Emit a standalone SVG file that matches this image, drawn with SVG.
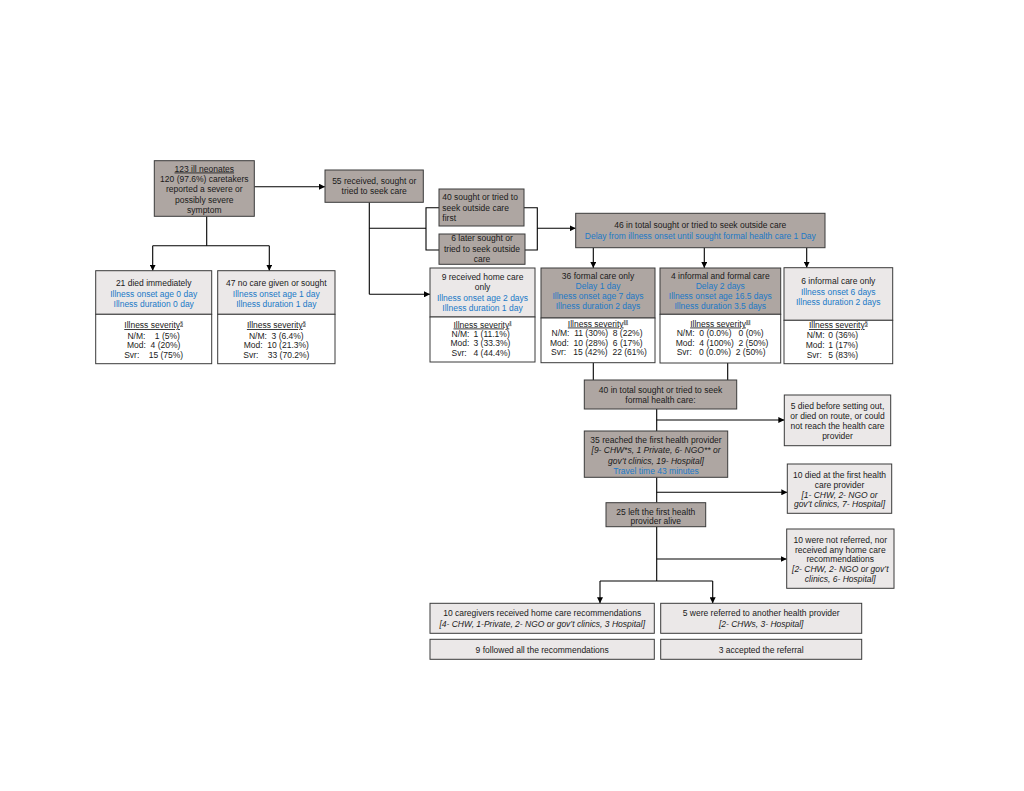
<svg xmlns="http://www.w3.org/2000/svg" width="1024" height="791" viewBox="0 0 1024 791">
<defs>
<marker id="ah" viewBox="0 0 6 6" refX="6" refY="3" markerWidth="6" markerHeight="6" markerUnits="userSpaceOnUse" orient="auto"><path d="M0,0 L6,3 L0,6 z" fill="#000"/></marker>
<style>
.d{fill:#aea6a2;stroke:#3a3a3a;stroke-width:1}
.l{fill:#ebe8e8;stroke:#3a3a3a;stroke-width:1}
.w{fill:#ffffff;stroke:#3a3a3a;stroke-width:1}
text{font-family:"Liberation Sans",Arial,sans-serif;font-size:8.5px;fill:#1a1a1a}
.c{text-anchor:middle}
.b{fill:#2079c7}
.i{font-style:italic}
.u{text-decoration:underline}
.s{font-size:5.5px}
.p{white-space:pre}
.cn line,.cn path{stroke:#000;stroke-width:1.1;fill:none}
</style>
</defs>
<rect width="1024" height="791" fill="#fff"/>

<g id="connectors" class="cn">
<line x1="254.3" y1="186.7" x2="325" y2="186.7" marker-end="url(#ah)"/>
<path d="M206.7,216.3 V245.7"/>
<path d="M152.7,245.7 H269.3"/>
<line x1="152.7" y1="245.7" x2="152.7" y2="270.7" marker-end="url(#ah)"/>
<line x1="269.3" y1="245.7" x2="269.3" y2="270.7" marker-end="url(#ah)"/>
<path d="M369.3,202.3 V294.3"/>
<line x1="369.3" y1="294.3" x2="430" y2="294.3" marker-end="url(#ah)"/>
<path d="M369.3,228.3 H426"/>
<path d="M439,207.7 H426 V250 H439"/>
<path d="M524,207.7 H537.3 V250 H525"/>
<line x1="537.3" y1="228.3" x2="575.7" y2="228.3" marker-end="url(#ah)"/>
<line x1="593.3" y1="247.7" x2="593.3" y2="268" marker-end="url(#ah)"/>
<line x1="704.3" y1="247.7" x2="704.3" y2="268" marker-end="url(#ah)"/>
<line x1="806.7" y1="247.7" x2="806.7" y2="267.7" marker-end="url(#ah)"/>
<path d="M593.3,362.7 V380"/>
<path d="M727.7,363 V380"/>
<path d="M656.7,409 V431"/>
<line x1="656.7" y1="420" x2="784.3" y2="420" marker-end="url(#ah)"/>
<path d="M656.7,477.3 V502.7"/>
<line x1="656.7" y1="492.3" x2="787.3" y2="492.3" marker-end="url(#ah)"/>
<path d="M656.7,526.7 V581"/>
<line x1="656.7" y1="559" x2="786.7" y2="559" marker-end="url(#ah)"/>
<path d="M600,581 H712.7"/>
<line x1="600" y1="581" x2="600" y2="603.3" marker-end="url(#ah)"/>
<line x1="712.7" y1="581" x2="712.7" y2="603.3" marker-end="url(#ah)"/>
</g>

<g id="n123">
<rect class="d" x="154.3" y="160.7" width="100" height="55.6"/>
<text class="c u" x="204.3" y="171.5">123 ill neonates</text>
<text class="c" x="204.3" y="182">120 (97.6%) caretakers</text>
<text class="c" x="204.3" y="192.3">reported a severe or</text>
<text class="c" x="204.3" y="202.6">possibly severe</text>
<text class="c" x="204.3" y="212.9">symptom</text>
</g>

<g id="n55">
<rect class="d" x="325" y="170" width="98.3" height="32.3"/>
<text class="c" x="374.2" y="184">55 received, sought or</text>
<text class="c" x="374.2" y="194">tried to seek care</text>
</g>

<g id="n40first">
<rect class="d" x="439" y="189" width="85" height="37"/>
<text x="442.3" y="200.3">40 sought or tried to</text>
<text x="442.3" y="210.7">seek outside care</text>
<text x="442.3" y="220.6">first</text>
</g>

<g id="n6later">
<rect class="d" x="439" y="234" width="86" height="30.3"/>
<text class="c" x="482" y="241">6 later sought or</text>
<text class="c" x="482" y="251.5">tried to seek outside</text>
<text class="c" x="482" y="262">care</text>
</g>

<g id="n46">
<rect class="d" x="575.7" y="213.3" width="249.3" height="34.4"/>
<text class="c" x="700.3" y="228">46 in total sought or tried to seek outside care</text>
<text class="c b" x="700.3" y="239">Delay from illness onset until sought formal health care 1 Day</text>
</g>

<g id="n21">
<rect class="l" x="95.7" y="270.7" width="116" height="43.6"/>
<rect class="w" x="95.7" y="314.3" width="116" height="49.4"/>
<text class="c" x="153.7" y="286">21 died immediately</text>
<text class="c b" x="153.7" y="296.5">Illness onset age 0 day</text>
<text class="c b" x="153.7" y="307">Illness duration 0 day</text>
<text class="c u" x="153.7" y="328">Illness severity<tspan class="s" dy="-3">§</tspan></text>
<text class="c p" xml:space="preserve" x="153.7" y="338.5">N/M:    1 (5%)</text>
<text class="c p" xml:space="preserve" x="153.7" y="348">Mod:  4 (20%)</text>
<text class="c p" xml:space="preserve" x="153.7" y="358">Svr:    15 (75%)</text>
</g>

<g id="n47">
<rect class="l" x="217.7" y="270.7" width="117.3" height="43.6"/>
<rect class="w" x="217.7" y="314.3" width="117.3" height="49.4"/>
<text class="c" x="276.3" y="286">47 no care given or sought</text>
<text class="c b" x="276.3" y="296.5">Illness onset age 1 day</text>
<text class="c b" x="276.3" y="307">Illness duration 1 day</text>
<text class="c u" x="276.3" y="328">Illness severity<tspan class="s" dy="-3">§</tspan></text>
<text class="c p" xml:space="preserve" x="276.3" y="338.5">N/M:  3 (6.4%)</text>
<text class="c p" xml:space="preserve" x="276.3" y="348">Mod:  10 (21.3%)</text>
<text class="c p" xml:space="preserve" x="276.3" y="358">Svr:    33 (70.2%)</text>
</g>

<g id="n9">
<rect class="l" x="430" y="268" width="105" height="49"/>
<rect class="w" x="430" y="317" width="105" height="45"/>
<text class="c" x="482.5" y="280">9 received home care</text>
<text class="c" x="482.5" y="290">only</text>
<text class="c b" x="482.5" y="300.5">Illness onset age 2 days</text>
<text class="c b" x="482.5" y="311">Illness duration 1 day</text>
<text class="c u" x="482.5" y="327.5">Illness severity<tspan class="s" dy="-3">‖</tspan></text>
<text x="451.5" y="337">N/M:</text><text x="473.5" y="337">1 (11.1%)</text>
<text x="450.5" y="346.3">Mod:</text><text x="473.5" y="346.3">3 (33.3%)</text>
<text x="451.5" y="355.8">Svr:</text><text x="473.5" y="355.8">4 (44.4%)</text>
</g>

<g id="n36">
<rect class="d" x="541" y="268" width="114" height="50"/>
<rect class="w" x="541" y="318" width="114" height="44.7"/>
<text class="c" x="598" y="279">36 formal care only</text>
<text class="c b" x="598" y="289">Delay 1 day</text>
<text class="c b" x="598" y="299">Illness onset age 7 days</text>
<text class="c b" x="598" y="309.3">Illness duration 2 days</text>
<text class="c u" x="598" y="326.5">Illness severity<tspan class="s" dy="-3">‖‖</tspan></text>
<text class="p" xml:space="preserve" x="551.5" y="336">N/M:  11 (30%)  8 (22%)</text>
<text class="p" xml:space="preserve" x="550" y="345.5">Mod:  10 (28%)  6 (17%)</text>
<text class="p" xml:space="preserve" x="551" y="355">Svr:   15 (42%)  22 (61%)</text>
</g>

<g id="n4">
<rect class="d" x="660" y="268" width="120.7" height="46.3"/>
<rect class="w" x="660" y="314.3" width="120.7" height="48.7"/>
<text class="c" x="720.3" y="279">4 informal and formal care</text>
<text class="c b" x="720.3" y="289">Delay 2 days</text>
<text class="c b" x="720.3" y="299">Illness onset age 16.5 days</text>
<text class="c b" x="720.3" y="309.3">Illness duration 3.5 days</text>
<text class="c u" x="720.3" y="326.5">Illness severity<tspan class="s" dy="-3">‖‖</tspan></text>
<text class="p" xml:space="preserve" x="676.7" y="336">N/M:  0 (0.0%)   0 (0%)</text>
<text class="p" xml:space="preserve" x="675.7" y="345.8">Mod:  4 (100%)  2 (50%)</text>
<text class="p" xml:space="preserve" x="676.7" y="355.3">Svr:   0 (0.0%)  2 (50%)</text>
</g>

<g id="n6informal">
<rect class="l" x="784" y="267.7" width="108.7" height="52.6"/>
<rect class="w" x="784" y="320.3" width="108.7" height="43.4"/>
<text class="c" x="838.3" y="284">6 informal care only</text>
<text class="c b" x="838.3" y="295">Illness onset 6 days</text>
<text class="c b" x="838.3" y="305">Illness duration 2 days</text>
<text class="c u" x="838.3" y="328">Illness severity<tspan class="s" dy="-3">§</tspan></text>
<text x="806.7" y="337.5">N/M:</text><text x="828.3" y="337.5">0 (36%)</text>
<text x="805.7" y="347.5">Mod:</text><text x="828.3" y="347.5">1 (17%)</text>
<text x="806.7" y="357.5">Svr:</text><text x="828.3" y="357.5">5 (83%)</text>
</g>

<g id="n40total">
<rect class="d" x="584.3" y="380" width="152.4" height="29"/>
<text class="c" x="660.5" y="393">40 in total sought or tried to seek</text>
<text class="c" x="660.5" y="403">formal health care:</text>
</g>

<g id="n5died">
<rect class="l" x="784.3" y="395" width="106.4" height="50.7"/>
<text class="c" x="837.5" y="408.5">5 died before setting out,</text>
<text class="c" x="837.5" y="418.5">or died on route, or could</text>
<text class="c" x="837.5" y="428.5">not reach the health care</text>
<text class="c" x="837.5" y="438.5">provider</text>
</g>

<g id="n35">
<rect class="d" x="584.3" y="431" width="143.4" height="46.3"/>
<text class="c" x="656" y="443">35 reached the first health provider</text>
<text class="c i" x="656" y="453.3">[9- CHW*s, 1 Private, 6- NGO** or</text>
<text class="c i" x="656" y="463.8">gov’t clinics, 19- Hospital]</text>
<text class="c b" x="656" y="474.3">Travel time 43 minutes</text>
</g>

<g id="n10died">
<rect class="l" x="787.3" y="464" width="104.4" height="49.3"/>
<text class="c" x="839.5" y="478">10 died at the first health</text>
<text class="c" x="839.5" y="487.5">care provider</text>
<text class="c i" x="839.5" y="497.5">[1- CHW, 2- NGO or</text>
<text class="c i" x="839.5" y="507.3">gov’t clinics, 7- Hospital]</text>
</g>

<g id="n25">
<rect class="d" x="606" y="502.7" width="99.7" height="24"/>
<text class="c" x="655.8" y="514.5">25 left the first health</text>
<text class="c" x="655.8" y="524">provider alive</text>
</g>

<g id="n10notref">
<rect class="l" x="786.7" y="529" width="107.3" height="59.3"/>
<text class="c" x="840.3" y="543">10 were not referred, nor</text>
<text class="c" x="840.3" y="552.5">received any home care</text>
<text class="c" x="840.3" y="562">recommendations</text>
<text class="c i" x="840.3" y="572">[2- CHW, 2- NGO or gov’t</text>
<text class="c i" x="840.3" y="582">clinics, 6- Hospital]</text>
</g>

<g id="n10care">
<rect class="l" x="430" y="603.3" width="224.3" height="30"/>
<text class="c" x="542.2" y="616">10 caregivers received home care recommendations</text>
<text class="c i" x="542.2" y="626.5">[4- CHW, 1-Private, 2- NGO or gov’t clinics, 3 Hospital]</text>
</g>

<g id="n5ref">
<rect class="l" x="660.7" y="603.3" width="201" height="30"/>
<text class="c" x="761.2" y="616">5 were referred to another health provider</text>
<text class="c i" x="761.2" y="626.5">[2- CHWs, 3- Hospital]</text>
</g>

<g id="n9followed">
<rect class="l" x="430" y="639.3" width="224.3" height="20"/>
<text class="c" x="542.2" y="652.5">9 followed all the recommendations</text>
</g>

<g id="n3accepted">
<rect class="l" x="660.7" y="639.3" width="201" height="20"/>
<text class="c" x="761.2" y="652.5">3 accepted the referral</text>
</g>
</svg>
